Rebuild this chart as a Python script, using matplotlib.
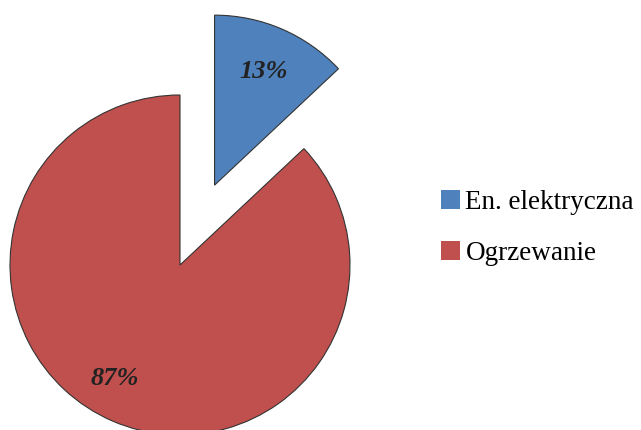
import matplotlib.pyplot as plt
import numpy as np

labels = ['En. elektryczna', 'Ogrzewanie']
values = [13, 87]
colors = ['#4F81BD', '#C0504D']

fig = plt.figure(figsize=(6.41, 4.30), dpi=100)
ax = fig.add_axes([0, 0, 1, 1])
ax.axis('off')

cx, cy, r = 180, 165, 170
# explode is in data units here (pixels), not a fraction of the radius
wedges, texts, autotexts = ax.pie(values, colors=colors, startangle=90, counterclock=False,
                                  explode=[87, 0], center=(cx, cy), radius=r,
                                  autopct='%1.0f%%', pctdistance=0.73,
                                  wedgeprops=dict(edgecolor='#333333', linewidth=0.8),
                                  textprops=dict(family='Liberation Serif', fontsize=19,
                                                 fontstyle='italic', fontweight='bold',
                                                 color='#222222'))
ax.set_xlim(0, 641)
ax.set_ylim(0, 430)
ax.set_aspect('auto')

# move the big label a bit to match the original placement
ang = np.deg2rad(-120)
autotexts[1].set_position((cx + 0.77 * r * np.cos(ang), cy + 0.77 * r * np.sin(ang)))

leg = ax.legend(wedges, labels, loc='center left', bbox_to_anchor=(0.65, 0.47),
                frameon=False, prop=dict(family='Liberation Serif', size=19.5),
                handlelength=0.7, handleheight=0.7, handletextpad=0.2,
                labelspacing=0.95)
for h in leg.legend_handles:
    h.set_edgecolor('none')

fig.savefig('out.png', dpi=100)
